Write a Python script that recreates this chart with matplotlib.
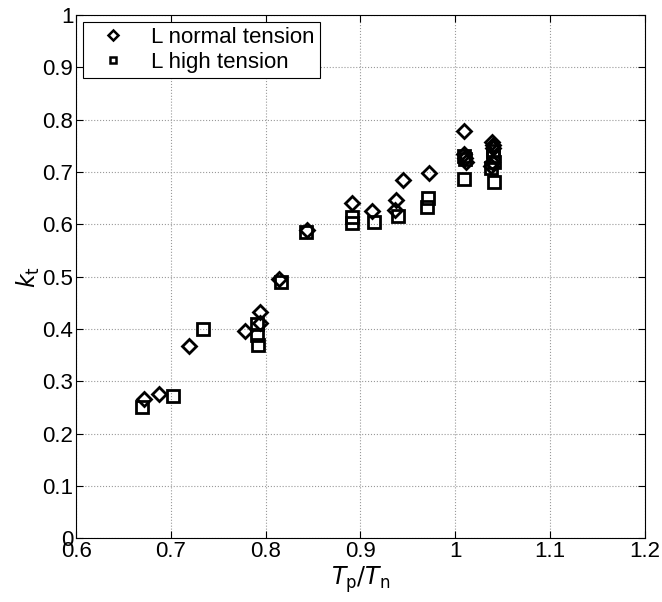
import matplotlib.pyplot as plt
import numpy as np

plt.rcParams['font.family'] = ['Liberation Sans', 'DejaVu Sans']

# --- Data ---
# L normal tension (diamonds)
xNormal = [0.672, 0.687, 0.719, 0.778, 0.794, 0.794, 0.814, 0.844,
           0.891, 0.912, 0.937, 0.936, 0.945, 0.972,
           1.009, 1.009, 1.010, 1.011, 1.039, 1.040, 1.040, 1.039, 1.038]
yNormal = [0.267, 0.276, 0.367, 0.397, 0.433, 0.412, 0.496, 0.589,
           0.640, 0.625, 0.646, 0.627, 0.685, 0.698,
           0.779, 0.735, 0.727, 0.720, 0.758, 0.752, 0.745, 0.720, 0.711]

# L high tension (squares)
xHigh = [0.670, 0.702, 0.734, 0.791, 0.791, 0.792, 0.816, 0.843,
         0.891, 0.891, 0.914, 0.940, 0.971, 0.970,
         1.009, 1.010, 1.009, 1.040, 1.040, 1.041, 1.038, 1.041]
yHigh = [0.251, 0.272, 0.399, 0.410, 0.388, 0.369, 0.490, 0.585,
         0.614, 0.602, 0.605, 0.616, 0.650, 0.634,
         0.731, 0.725, 0.686, 0.740, 0.729, 0.720, 0.707, 0.681]

# --- Figure ---
fig = plt.figure(figsize=(6.62, 6.02), dpi=100)
ax = fig.add_axes([0.115, 0.106, 0.859, 0.869])

ax.plot(xNormal, yNormal, 'D', color='none', markeredgecolor='black',
        markersize=7, markeredgewidth=2, label='L normal tension')
ax.plot(xHigh, yHigh, 's', color='none', markeredgecolor='black',
        markersize=8, markeredgewidth=2, label='L high tension')

ax.set_xlim(0.6, 1.2)
ax.set_ylim(0, 1)
ax.set_xticks(np.arange(0.6, 1.21, 0.1))
ax.set_yticks(np.arange(0, 1.01, 0.1))
ax.set_xticklabels(['0.6', '0.7', '0.8', '0.9', '1', '1.1', '1.2'])
ax.set_yticklabels(['0', '0.1', '0.2', '0.3', '0.4', '0.5', '0.6', '0.7', '0.8', '0.9', '1'])
ax.tick_params(direction='in', top=True, right=True, labelsize=16, length=5, pad=2)
ax.grid(True, linestyle=':', color='#999999', linewidth=0.8)

ax.set_xlabel(r'$T_{\mathrm{p}}/T_{\mathrm{n}}$', fontsize=17, labelpad=2)
ax.set_ylabel(r'$k_{\mathrm{t}}$', fontsize=17, labelpad=0)

leg = ax.legend(loc='upper left', fontsize=16, fancybox=False, framealpha=1,
                edgecolor='black', borderaxespad=0.3, handlelength=2.2,
                handletextpad=0.6, borderpad=0.25, labelspacing=0.15)
leg.get_frame().set_linewidth(0.8)
for h in leg.legend_handles:
    h.set_markersize(5)
    h.set_markeredgewidth(1.8)

fig.savefig('out.png', dpi=100)
